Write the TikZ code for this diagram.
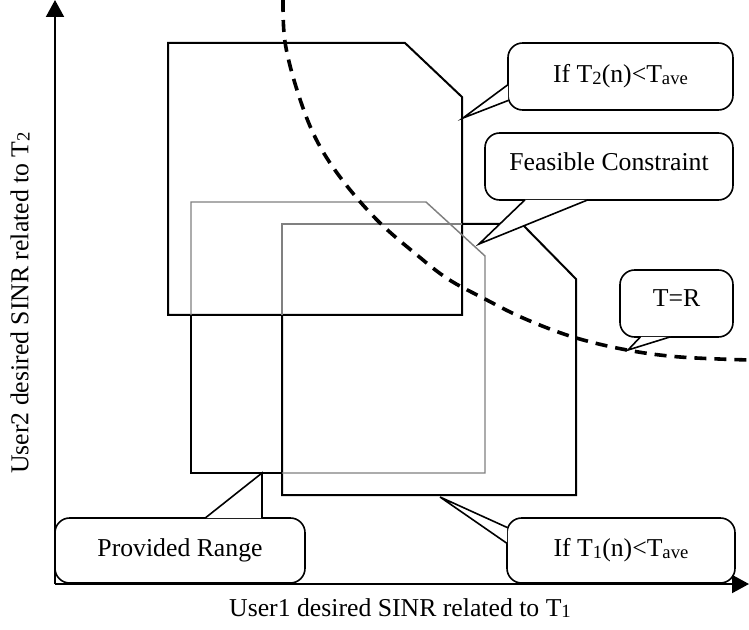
\documentclass[tikz,border=0pt]{standalone}
\usepackage{fontspec}
\setmainfont{Liberation Serif}
\usetikzlibrary{arrows.meta,calc}
\newcommand{\lo}[1]{\raisebox{-0.05em}{\fontsize{14pt}{14pt}\selectfont #1}}

\begin{document}
\begin{tikzpicture}[x=0.75pt, y=-0.75pt,
    font=\fontsize{19.3pt}{22pt}\selectfont,
    axis/.style={line width=1.5pt, -{Triangle[length=12.75pt, width=13.5pt]}},
    region/.style={line width=1.5pt, line join=miter},
    inner/.style={line width=1.1pt, gray},
    bound/.style={line width=2.7pt, dash pattern=on 9pt off 6pt},
    bubble/.style={draw, line width=1.2pt, rounded corners=11pt, inner sep=0pt},
    tail/.style={line width=1.2pt, line join=miter}]
\useasboundingbox (0,0) rectangle (749,630);

% axes
\coordinate (origin) at (55,584);
\coordinate (xend) at (749,584);
\coordinate (yend) at (55,0);
\draw[axis] (origin) -- (xend);
\draw[axis] (origin) -- (yend);
\node (xlab) at (400,608) {User1 desired SINR related to T\lo{1}};
\node[rotate=90] (ylab) at (20,303) {User2 desired SINR related to T\lo{2}};

% ranges
\draw[region] (168,43) -- (405,43) -- (462,97) -- (462,315) -- (168,315) -- cycle;
\draw[region] (462,224) -- (522,224) -- (576,279) -- (576,495) -- (282,495) -- (282,315);
\draw[inner] (462,224) -- (282,224) -- (282,315);
\draw[inner] (191,202) -- (426,202) -- (485,256) -- (485,473) -- (191,473) -- cycle;
\draw[region] (191,315) -- (191,473) -- (282,473);

% T=R curve
\draw[bound] plot[smooth, tension=0.6] coordinates {(283,0) (285,42) (297,90) (315,137) (340,177) (377,220) (417,255) (448,279) (483,298) (523,318) (573,337) (627,350) (680,357) (749,360)};

% callouts
\node[bubble, minimum width=168.75pt, minimum height=50.25pt] (ifT2) at (620.5,76.5) {If T\lo{2}(n)<T\lo{ave}};
\node[bubble, minimum width=186pt, minimum height=50.25pt, text depth=8pt] (feas) at (609,166.5) {Feasible Constraint};
\node[bubble, minimum width=84.75pt, minimum height=50.25pt, text depth=8pt] (tr) at (676.5,303.5) {T=R};
\node[bubble, minimum width=187.5pt, minimum height=48.75pt] (prov) at (180,550.5) {Provided Range};
\node[bubble, minimum width=171pt, minimum height=48.75pt] (ifT1) at (621,550.5) {If T\lo{1}(n)<T\lo{ave}};

\coordinate (tipT2) at (463,118);
\coordinate (tipFeas) at (479,244);
\coordinate (tipTR) at (628,350);
\coordinate (tipProv) at (262,473);
\coordinate (tipT1) at (440,497);

\fill[white] ($(ifT2.west)+(1,8)$) -- (tipT2) -- ($(ifT2.west)+(1,24)$);
\draw[tail] ($(ifT2.west)+(1,8)$) -- (tipT2) -- ($(ifT2.west)+(1,24)$);
\fill[white] ($(feas.south)+(-84,-1)$) -- (tipFeas) -- ($(feas.south)+(-21,-1)$);
\draw[tail] ($(feas.south)+(-84,-1)$) -- (tipFeas) -- ($(feas.south)+(-21,-1)$);
\fill[white] ($(tr.south)+(-36,-1)$) -- (tipTR) -- ($(tr.south)+(-6,-1)$);
\draw[tail] ($(tr.south)+(-36,-1)$) -- (tipTR) -- ($(tr.south)+(-6,-1)$);
\fill[white] ($(prov.north)+(25,1)$) -- (tipProv) -- ($(prov.north)+(82,1)$);
\draw[tail] ($(prov.north)+(25,1)$) -- (tipProv) -- ($(prov.north)+(82,1)$);
\fill[white] ($(ifT1.west)+(1,-23)$) -- (tipT1) -- ($(ifT1.west)+(1,-7)$);
\draw[tail] ($(ifT1.west)+(1,-23)$) -- (tipT1) -- ($(ifT1.west)+(1,-7)$);
\end{tikzpicture}
\end{document}
